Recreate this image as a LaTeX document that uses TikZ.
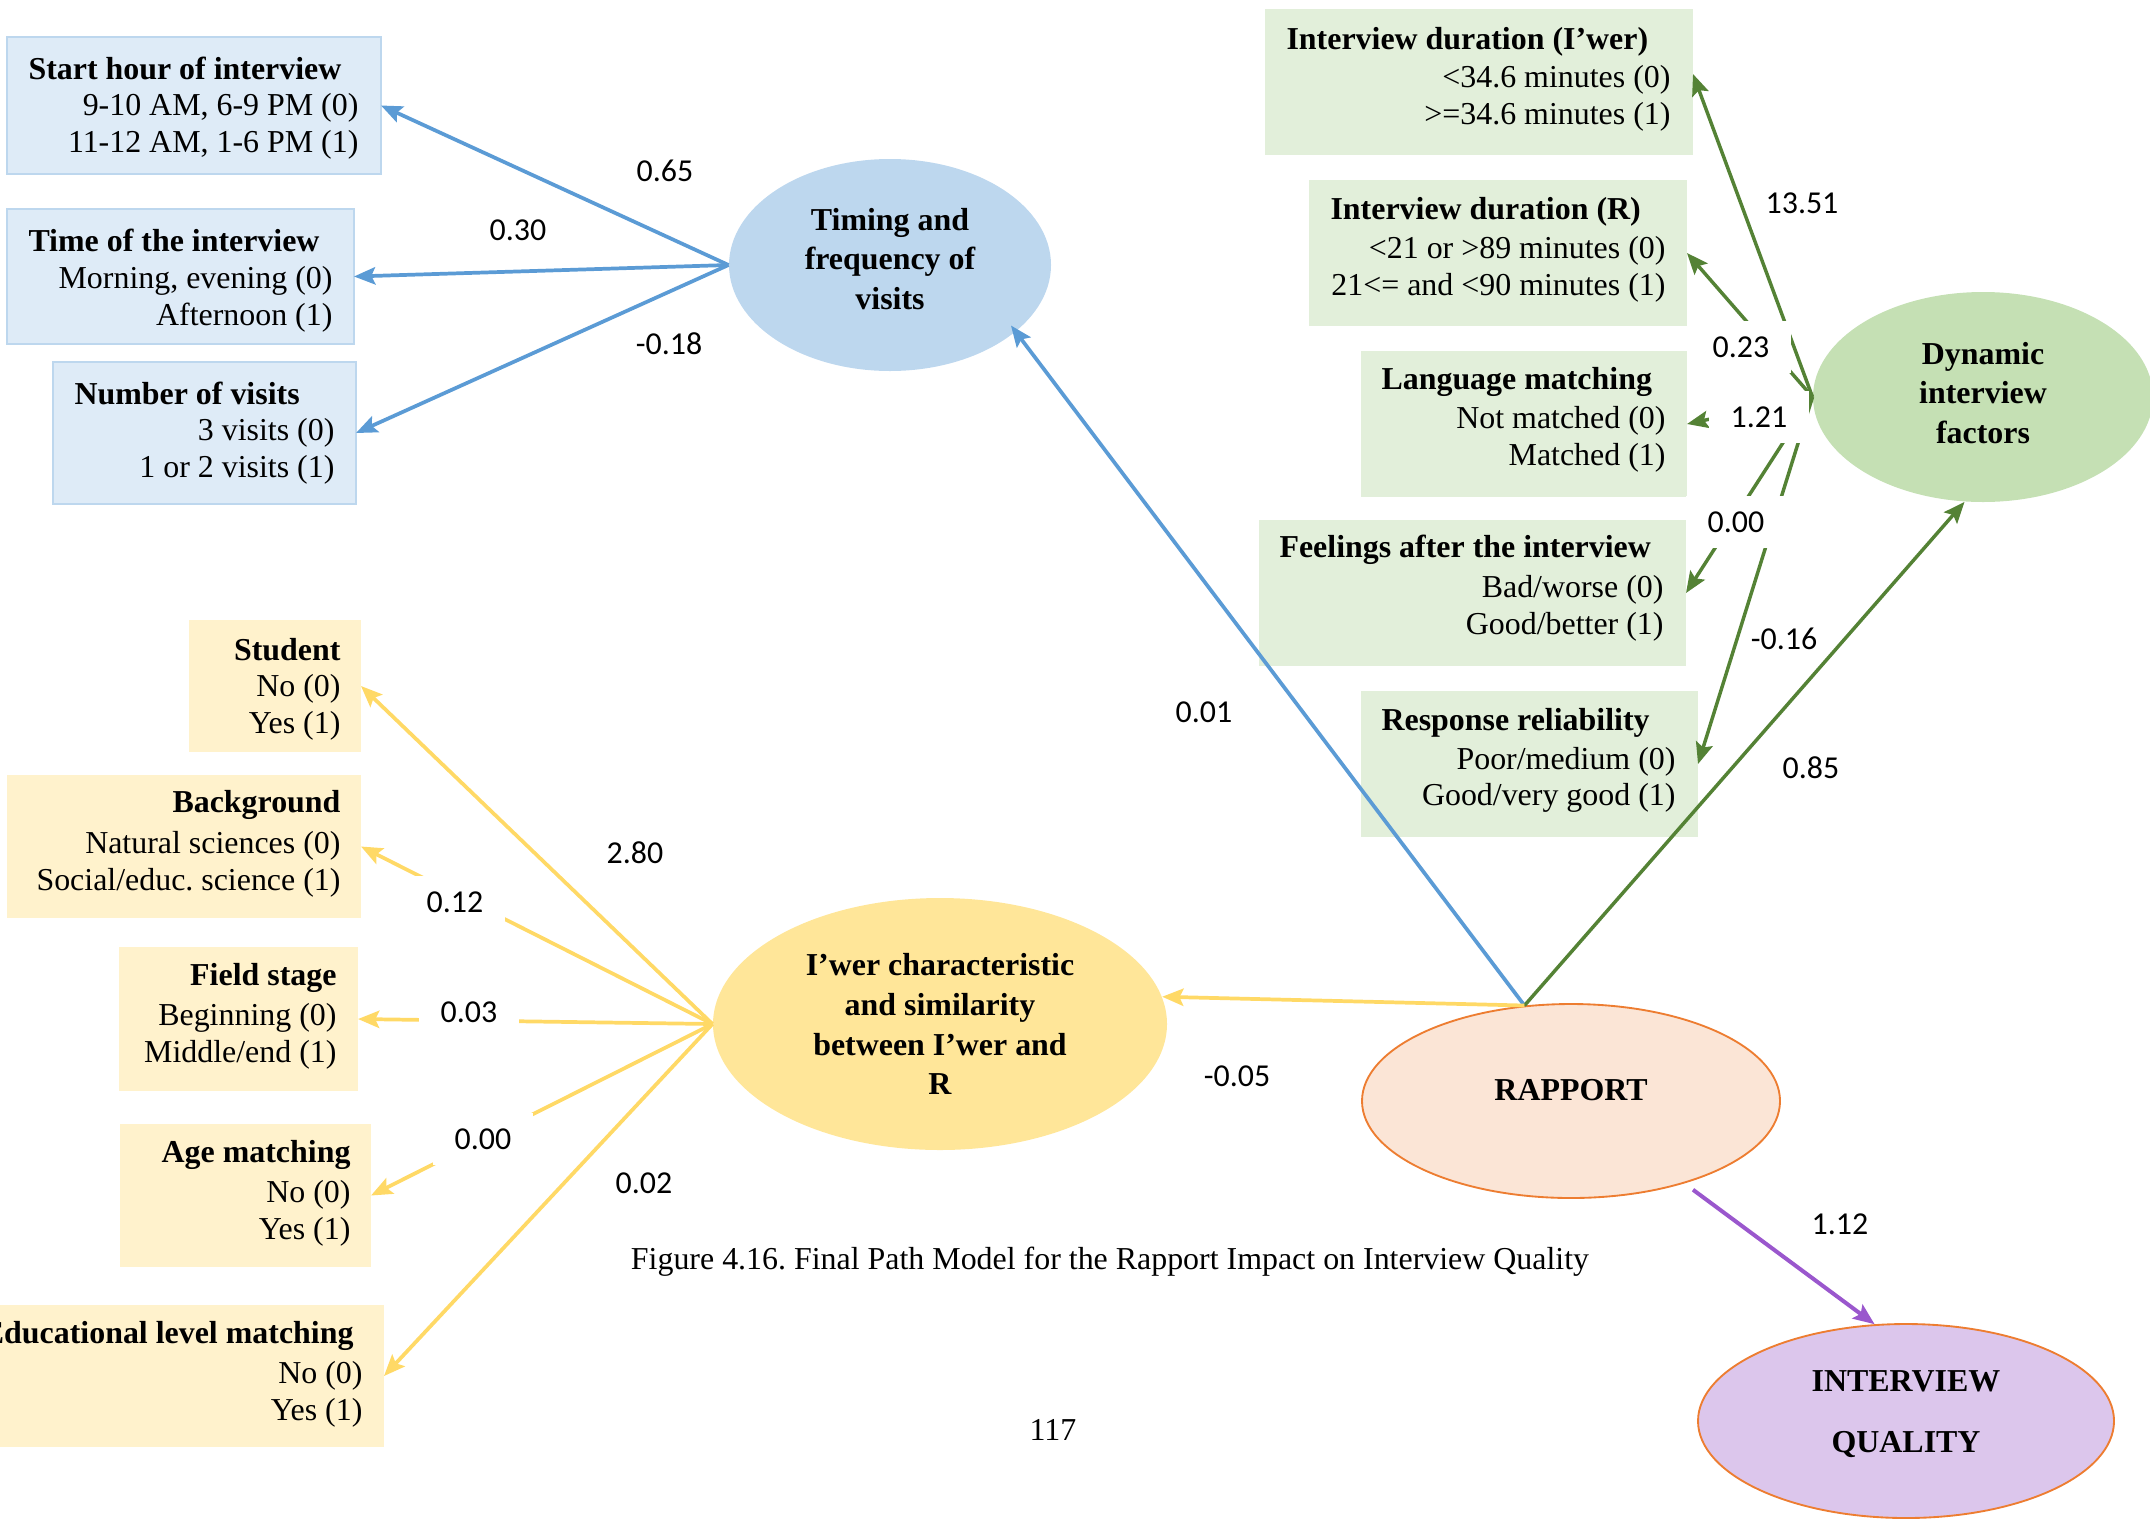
\documentclass[tikz,border=0pt]{standalone}
\usepackage{fontspec}
\setmainfont{Liberation Serif}
\newfontfamily\numfont{Carlito}
\usetikzlibrary{shapes.geometric,arrows.meta,fit}

% palette
\definecolor{bxblue}{HTML}{DEEBF7}
\definecolor{bxblueline}{HTML}{BDD7EE}
\definecolor{elblue}{HTML}{BDD7EE}
\definecolor{lnblue}{HTML}{5B9BD5}
\definecolor{bxgreen}{HTML}{E2EFDA}
\definecolor{elgreen}{HTML}{C5E0B4}
\definecolor{lngreen}{HTML}{548235}
\definecolor{bxyellow}{HTML}{FFF2CC}
\definecolor{elyellow}{HTML}{FFE699}
\definecolor{lnyellow}{HTML}{FFD966}
\definecolor{elpeach}{HTML}{FBE5D6}
\definecolor{lnorange}{HTML}{ED7D31}
\definecolor{elpurple}{HTML}{DCC6EC}
\definecolor{lnpurple}{HTML}{9A57CD}

% one drawing unit
\def\pxu{0.376pt}

\begin{document}
\frenchspacing
\begin{tikzpicture}[x=0.376pt,y=-0.376pt,
  every node/.style={font=\fontsize{12}{13.8}\selectfont, inner sep=0pt},
  box/.style={rectangle, inner sep=0pt, outer sep=0pt},
  bluebox/.style={box, fill=bxblue, draw=bxblueline, line width=1.1pt},
  greenbox/.style={box, fill=bxgreen},
  yellowbox/.style={box, fill=bxyellow},
  head/.style={font=\fontsize{12}{13.8}\selectfont\bfseries},
  headl/.style={head, anchor=west},
  headr/.style={head, anchor=east},
  vals/.style={align=right, anchor=east},
  factor/.style={ellipse, inner sep=0pt},
  factortext/.style={align=center, font=\fontsize{12}{15}\selectfont\bfseries},
  coef/.style={font=\numfont\fontsize{12}{14}\selectfont, fill=white,
    minimum width={100*\pxu}, minimum height={52*\pxu}},
  tip/.style={-{Stealth[length=8pt,width=6.5pt,inset=1.5pt]}},
  bluepath/.style={tip, draw=lnblue, line width=1.4pt},
  greenpath/.style={tip, draw=lngreen, line width=1.3pt},
  yellowpath/.style={tip, draw=lnyellow, line width=1.4pt},
  purplepath/.style={tip, draw=lnpurple, line width=1.5pt}
]
\useasboundingbox (0,0) rectangle (2150,1521);

% ---------- timing and frequency of visits ----------
\node[bluebox, fit={(7,37) (381,174)}] (sh) {};
\node[headl] (shh) at (28,68) {Start hour of interview};
\node[vals] (shv) at (359,126) {9-10 AM, 6-9 PM (0)\\11-12 AM, 1-6 PM (1)};

\node[bluebox, fit={(7,209) (354,344)}] (ti) {};
\node[headl] (tih) at (28,240) {Time of the interview};
\node[vals] (tiv) at (333,299) {Morning, evening (0)\\Afternoon (1)};

\node[bluebox, fit={(53,362) (356,504)}] (nv) {};
\node[headl] (nvh) at (74,393) {Number of visits};
\node[vals] (nvv) at (335,451) {3 visits (0)\\1 or 2 visits (1)};

\node[factor, fill=elblue, minimum width={322*\pxu}, minimum height={212*\pxu}]
  (timing) at (890,265) {};
\node[factortext] (timingtxt) at (890,259) {Timing and\\frequency of\\visits};

% ---------- dynamic interview factors ----------
\node[greenbox, fit={(1265,9) (1693,155)}] (d1) {};
\node[headl] (d1h) at (1286,42) {Interview duration (I’wer)};
\node[vals] (d1v) at (1671,98) {<34.6 minutes (0)\\>=34.6 minutes (1)};

\node[greenbox, fit={(1309,180) (1687,326)}] (d2) {};
\node[headl] (d2h) at (1330,212) {Interview duration (R)};
\node[vals] (d2v) at (1666,269) {<21 or >89 minutes (0)\\21<= and <90 minutes (1)};

\node[greenbox, fit={(1361,351) (1687,497)}] (lm) {};
\node[headl] (lmh) at (1381,382) {Language matching};
\node[vals] (lmv) at (1666,439) {Not matched (0)\\Matched (1)};

\node[greenbox, fit={(1259,520) (1686,666)}] (fe) {};
\node[headl] (feh) at (1279,550) {Feelings after the interview};
\node[vals] (fev) at (1664,608) {Bad/worse (0)\\Good/better (1)};

\node[greenbox, fit={(1361,691) (1698,837)}] (rr) {};
\node[headl] (rrh) at (1381,723) {Response reliability};
\node[vals] (rrv) at (1676,780) {Poor/medium (0)\\Good/very good (1)};

\node[factor, fill=elgreen, minimum width={340*\pxu}, minimum height={210*\pxu}]
  (dyn) at (1983,397) {};
\node[factortext] (dyntxt) at (1983,393) {Dynamic\\interview\\factors};

% ---------- interviewer characteristics ----------
\node[yellowbox, fit={(189,620) (361,752)}] (st) {};
\node[headr] (sth) at (341,650) {Student};
\node[vals] (stv) at (341,707) {No (0)\\Yes (1)};

\node[yellowbox, fit={(7,775) (361,918)}] (bg) {};
\node[headr] (bgh) at (341,805) {Background};
\node[vals] (bgv) at (341,864) {Natural sciences (0)\\Social/educ. science (1)};

\node[yellowbox, fit={(119,947) (358,1091)}] (fs) {};
\node[headr] (fsh) at (337,978) {Field stage};
\node[vals] (fsv) at (337,1036) {Beginning (0)\\Middle/end (1)};

\node[yellowbox, fit={(120,1124) (371,1267)}] (am) {};
\node[headr] (amh) at (351,1155) {Age matching};
\node[vals] (amv) at (351,1213) {No (0)\\Yes (1)};

\node[yellowbox, fit={(-60,1305) (384,1447)}] (el) {};
\node[headr] (elh) at (354,1336) {Educational level matching};
\node[vals] (elv) at (363,1394) {No (0)\\Yes (1)};

\node[factor, fill=elyellow, minimum width={454*\pxu}, minimum height={252*\pxu}]
  (iwer) at (940,1024) {};
\node[factortext] (iwertxt) at (940,1024) {I’wer characteristic\\and similarity\\between I’wer and\\R};

% ---------- rapport and outcome ----------
\node[factor, fill=elpeach, draw=lnorange, line width=0.7pt,
  minimum width={418*\pxu}, minimum height={194*\pxu}]
  (rapport) at (1571,1101) {};
\node[factortext] (rapporttxt) at (1571,1090) {RAPPORT};
\node[factor, fill=elpurple, draw=lnorange, line width=0.7pt,
  minimum width={416*\pxu}, minimum height={194*\pxu}]
  (iq) at (1906,1421) {};
\node[factortext, font=\fontsize{12}{23}\selectfont\bfseries]
  (iqtxt) at (1906,1414) {INTERVIEW\\QUALITY};

% ---------- paths ----------
\draw[bluepath] (timing.west) -- (sh.east);
\draw[bluepath] (timing.west) -- (ti.east);
\draw[bluepath] (timing.west) -- (nv.east);

\draw[greenpath] (dyn.west) -- ([yshift=3pt]d1.east);
\draw[greenpath] (dyn.west) -- (d2.east);
\draw[greenpath] (dyn.west) -- (lm.east);
\draw[greenpath] (dyn.west) -- (fe.east);
\draw[greenpath] (dyn.west) -- (rr.east);

\draw[yellowpath] (iwer.west) -- (st.east);
\draw[yellowpath] (iwer.west) -- (bg.east);
\draw[yellowpath] (iwer.west) -- (fs.east);
\draw[yellowpath] (iwer.west) -- (am.east);
\draw[yellowpath] (iwer.west) -- (el.east);

\draw[bluepath, shorten >=-3pt] (rapport.116) -- (timing.-28);
\draw[greenpath] (rapport.116) -- (dyn.-100);
\draw[yellowpath] (rapport.116) -- (iwer.7);
\draw[purplepath, shorten <=4pt] (rapport.-36) -- (iq.108);

% ---------- path coefficients ----------
\node[coef] (c1) at (665,171) {0.65};
\node[coef] (c2) at (518,230) {0.30};
\node[coef] (c3) at (669,344) {-0.18};

\node[coef] (c4) at (1802,203) {13.51};
\node[coef] (c5) at (1741,347) {0.23};
\node[coef] (c6) at (1759,417) {1.21};
\node[coef] (c7) at (1736,522) {0.00};
\node[coef, minimum width={76*\pxu}, minimum height={40*\pxu}] (c8) at (1784,639) {-0.16};
\node[coef] (c9) at (1811,768) {0.85};

\node[coef] (c10) at (1204,712) {0.01};
\node[coef] (c11) at (1237,1076) {-0.05};
\node[coef] (c12) at (1840,1224) {1.12};

\node[coef] (c13) at (635,853) {2.80};
\node[coef] (c14) at (455,902) {0.12};
\node[coef] (c15) at (469,1012) {0.03};
\node[coef] (c16) at (483,1139) {0.00};
\node[coef] (c17) at (644,1183) {0.02};

% ---------- caption and folio ----------
\node (caption) at (1110,1262) {Figure 4.16. Final Path Model for the Rapport Impact on Interview Quality};
\node (folio) at (1053,1430) {117};
\end{tikzpicture}
\end{document}
